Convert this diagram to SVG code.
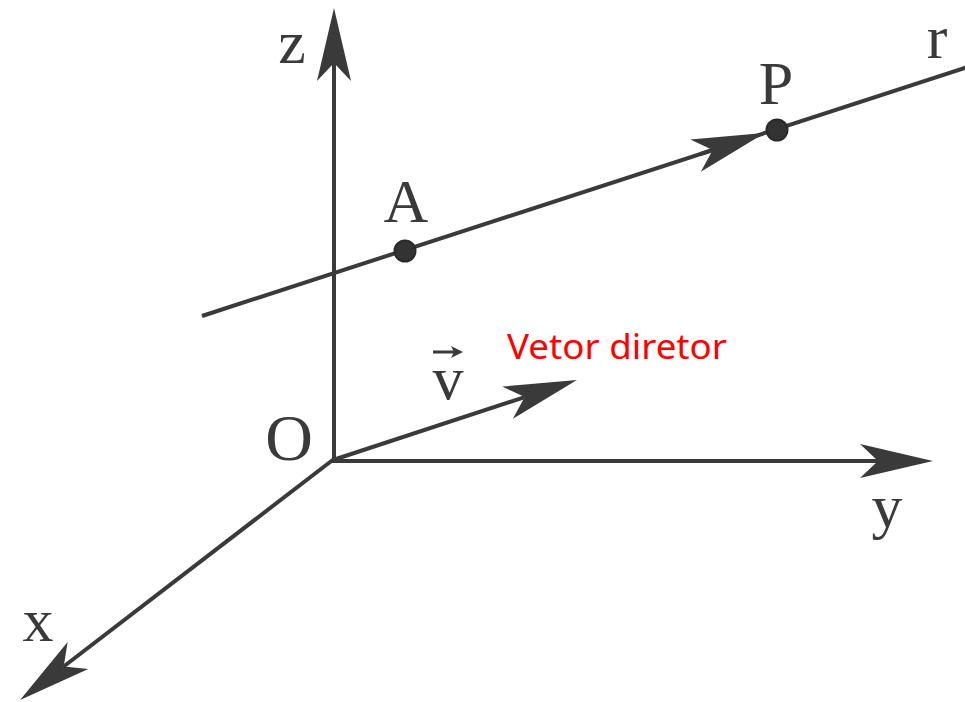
<svg xmlns="http://www.w3.org/2000/svg" width="965" height="702" viewBox="0 0 965 702">
<defs>
<style>
.ln{stroke:#3a3a3a;stroke-width:4;fill:none}
.lbl{font-family:"Liberation Serif",serif;font-size:62px;fill:#3a3a3a;text-anchor:middle}
.pt{fill:#333;stroke:#2a2a2a;stroke-width:2}
</style>
<marker id="ah" markerUnits="userSpaceOnUse" markerWidth="80" markerHeight="40" viewBox="-20 -20 80 40" refX="0" refY="0" orient="auto" overflow="visible">
<path d="M55,0 L-18,-17 L0,0 L-18,17 Z" fill="#3a3a3a"/>
</marker>
</defs>
<rect width="965" height="702" fill="#fff"/>
<g id="connectors">
<line id="axis-z" class="ln" x1="334" y1="460" x2="334" y2="63" marker-end="url(#ah)"/>
<line id="axis-y" class="ln" x1="332" y1="461" x2="878" y2="461" marker-end="url(#ah)"/>
<line id="axis-x" class="ln" x1="334" y1="459" x2="63.7" y2="666.5" marker-end="url(#ah)"/>
<line id="vec-v" class="ln" x1="333" y1="460" x2="524.7" y2="397.1" marker-end="url(#ah)"/>
<line id="line-r" class="ln" x1="202" y1="316" x2="968" y2="67"/>
<line id="r-arrow" class="ln" x1="700" y1="154.12" x2="712.7" y2="149.99" marker-end="url(#ah)"/>
</g>
<g id="point-A">
<circle class="pt" cx="405" cy="251" r="10.5"/>
<text class="lbl" x="406" y="222">A</text>
</g>
<g id="point-P">
<circle class="pt" cx="777" cy="130" r="10.5"/>
<text class="lbl" x="776" y="104">P</text>
</g>
<g id="label-r"><text class="lbl" x="937" y="58">r</text></g>
<g id="label-z"><text class="lbl" x="292" y="63">z</text></g>
<g id="label-O"><text class="lbl" x="289" y="460" style="font-size:66px">O</text></g>
<g id="label-y"><text class="lbl" x="887" y="527">y</text></g>
<g id="label-x"><text class="lbl" x="38" y="641">x</text></g>
<g id="label-v">
<text class="lbl" x="448" y="399">v</text>
<line x1="433" y1="352" x2="455" y2="352" stroke="#3a3a3a" stroke-width="3"/>
<path d="M463,352 L451,346 L454,352 L451,358 Z" fill="#3a3a3a"/>
</g>
<g id="label-vetor">
<text x="507" y="359" font-family="'Noto Sans','Open Sans',sans-serif" font-size="35" fill="#ff0000" textLength="220" lengthAdjust="spacingAndGlyphs">Vetor diretor</text>
</g>
</svg>
